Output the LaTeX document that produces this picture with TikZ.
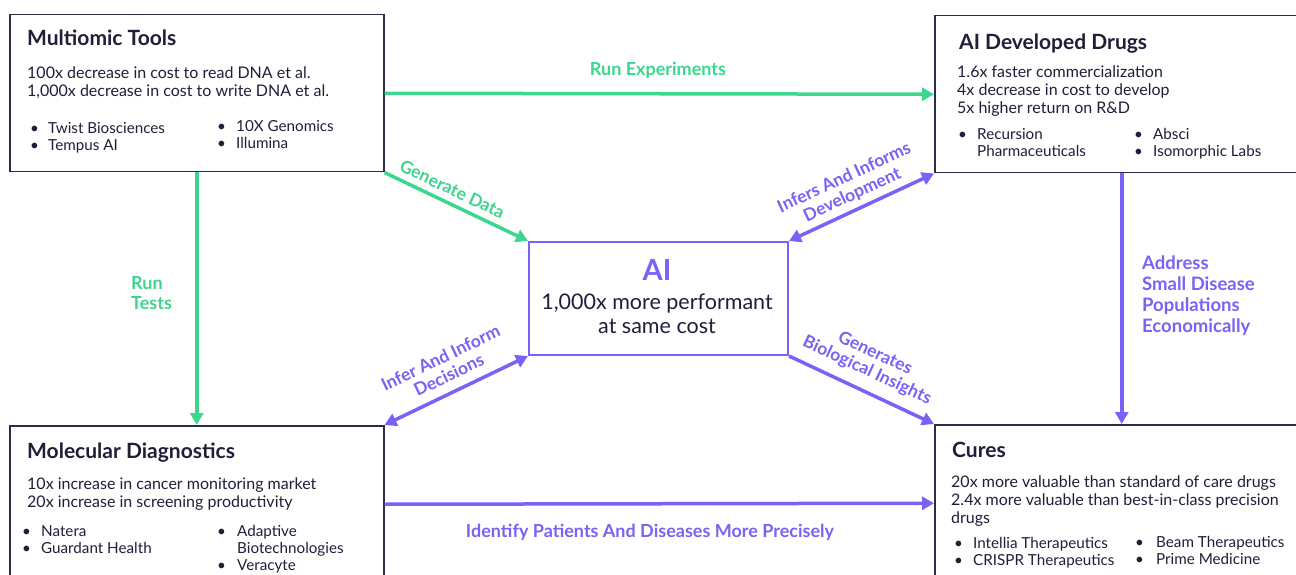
\documentclass[tikz,border=0pt]{standalone}
\usepackage{fontspec}
\setmainfont{Lato}
\usetikzlibrary{arrows.meta}
\definecolor{grn}{HTML}{3DD68F}
\definecolor{prp}{HTML}{7B61F5}
\definecolor{navy}{HTML}{2B2C4C}
\definecolor{txt}{HTML}{1F1F3A}
\tikzset{
  box/.style={draw=navy, line width=1.5pt, anchor=north west, inner sep=0pt, minimum width=374pt, minimum height=157pt},
  aibox/.style={draw=prp, line width=2pt, anchor=north west, inner sep=0pt, minimum width=259pt, minimum height=113pt},
  ttl/.style={anchor=base west, inner sep=0pt, text=txt, font=\bfseries\fontsize{21}{24}\selectfont},
  body/.style={anchor=base west, inner sep=0pt, text=txt, font=\fontsize{16}{18}\selectfont},
  bul/.style={anchor=base west, inner sep=0pt, text=txt, font=\fontsize{15.2}{17}\selectfont},
  glab/.style={text=grn, font=\bfseries\fontsize{18}{20}\selectfont, align=center, inner sep=2pt},
  plab/.style={text=prp, font=\bfseries\fontsize{18}{20}\selectfont, align=center, inner sep=2pt},
  slab/.style={font=\bfseries\fontsize{17.5}{19}\selectfont, align=center, inner sep=0pt, sloped},
  gconn/.style={draw=grn, line width=3.5pt, -{Triangle[length=12pt,width=13pt]}},
  pconn/.style={draw=prp, line width=3.5pt, -{Triangle[length=12pt,width=13pt]}},
  pdconn/.style={draw=prp, line width=3.5pt, {Triangle[length=12pt,width=13pt]}-{Triangle[length=12pt,width=13pt]}},
}
\begin{document}
\begin{tikzpicture}[x=1pt,y=-1pt]
\useasboundingbox[fill=white] (0,0) rectangle (1296,575);

% boxes
\node[box] (mt) at (9,14) {};
\node[box] (add) at (934,15) {};
\node[box] (md) at (9,425) {};
\node[box] (cu) at (934,424) {};
\node[aibox] (ai) at (528,241) {};

% Multiomic Tools
\node[ttl] (mtT) at (27,46) {Multiomic Tools};
\node[body] (mt1) at (27,79) {100x decrease in cost to read DNA et al.};
\node[body] (mt2) at (27,97) {1,000x decrease in cost to write DNA et al.};
\node[bul] (mtb1) at (30,134) {•};
\node[bul] (mtt1) at (48,134) {Twist Biosciences};
\node[bul] (mtb2) at (30,151) {•};
\node[bul] (mtt2) at (48,151) {Tempus AI};
\node[bul] (mtb3) at (217,132) {•};
\node[bul] (mtt3) at (236,132) {10X Genomics};
\node[bul] (mtb4) at (217,149) {•};
\node[bul] (mtt4) at (236,149) {Illumina};

% AI Developed Drugs
\node[ttl] (adT) at (959,50) {AI Developed Drugs};
\node[body] (ad1) at (957,78) {1.6x faster commercialization};
\node[body] (ad2) at (957,96) {4x decrease in cost to develop};
\node[body] (ad3) at (957,114) {5x higher return on R\&D};
\node[bul] (adb1) at (958,140) {•};
\node[bul] (adt1) at (977,140) {Recursion};
\node[bul] (adt1b) at (977,157) {Pharmaceuticals};
\node[bul] (adb2) at (1134,140) {•};
\node[bul] (adt2) at (1153,140) {Absci};
\node[bul] (adb3) at (1134,157) {•};
\node[bul] (adt3) at (1153,157) {Isomorphic Labs};

% Molecular Diagnostics
\node[ttl] (mdT) at (27,458) {Molecular Diagnostics};
\node[body] (md1) at (27,489) {10x increase in cancer monitoring market};
\node[body] (md2) at (27,507) {20x increase in screening productivity};
\node[bul] (mdb1) at (22,536) {•};
\node[bul] (mdt1) at (41,536) {Natera};
\node[bul] (mdb2) at (22,553) {•};
\node[bul] (mdt2) at (41,553) {Guardant Health};
\node[bul] (mdb3) at (217,536) {•};
\node[bul] (mdt3) at (237,536) {Adaptive};
\node[bul] (mdt3b) at (237,553) {Biotechnologies};
\node[bul] (mdb4) at (217,570) {•};
\node[bul] (mdt4) at (237,570) {Veracyte};

% Cures
\node[ttl] (cuT) at (952,457) {Cures};
\node[body] (cu1) at (951,487) {20x more valuable than standard of care drugs};
\node[body] (cu2) at (951,505) {2.4x more valuable than best-in-class precision};
\node[body] (cu3) at (951,523) {drugs};
\node[bul] (cub1) at (954,548) {•};
\node[bul] (cut1) at (973,548) {Intellia Therapeutics};
\node[bul] (cub2) at (954,565) {•};
\node[bul] (cut2) at (973,565) {CRISPR Therapeutics};
\node[bul] (cub3) at (1135,547) {•};
\node[bul] (cut3) at (1156,547) {Beam Therapeutics};
\node[bul] (cub4) at (1135,564) {•};
\node[bul] (cut4) at (1156,564) {Prime Medicine};

% AI box text
\node[anchor=base, inner sep=0pt, text=prp, font=\bfseries\fontsize{29}{32}\selectfont] (aiT) at (657,280) {AI};
\node[anchor=base, inner sep=0pt, text=txt, font=\fontsize{21.5}{24}\selectfont] (ai1) at (657,309) {1,000x more performant};
\node[anchor=base, inner sep=0pt, text=txt, font=\fontsize{21.5}{24}\selectfont] (ai2) at (657,333) {at same cost};

% connectors
\draw[gconn] (mt.east) -- (add.west);
\node[glab] (l1) at (658,70) {Run Experiments};
\draw[gconn] (mt.south) -- (md.north);
\node[glab, anchor=west, align=left] (l2) at (129,293) {Run\\Tests};
\draw[gconn] (mt.south east) -- node[slab, text=grn, above=6pt, pos=0.43] (l3) {Generate Data} (ai.north west);
\draw[pdconn] (ai.north east) -- node[slab, text=prp, above=5pt, pos=0.48] (l4) {Infers And Informs\\Development} (add.south west);
\draw[pdconn] (md.north east) -- node[slab, text=prp, above=9pt, pos=0.5] (l5) {Infer And Inform\\Decisions} (ai.south west);
\draw[pconn] (ai.south east) -- node[slab, text=prp, above=10pt, pos=0.48] (l6) {Generates\\Biological Insights} (cu.north west);
\draw[pconn] (add.south) -- (cu.north);
\node[plab, anchor=west, align=left, font=\bfseries\fontsize{18.5}{21}\selectfont] (l7) at (1140,296) {Address\\Small Disease\\Populations\\Economically};
\draw[pconn] (md.east) -- (cu.west);
\node[plab] (l8) at (650,532) {Identify Patients And Diseases More Precisely};
\end{tikzpicture}
\end{document}
